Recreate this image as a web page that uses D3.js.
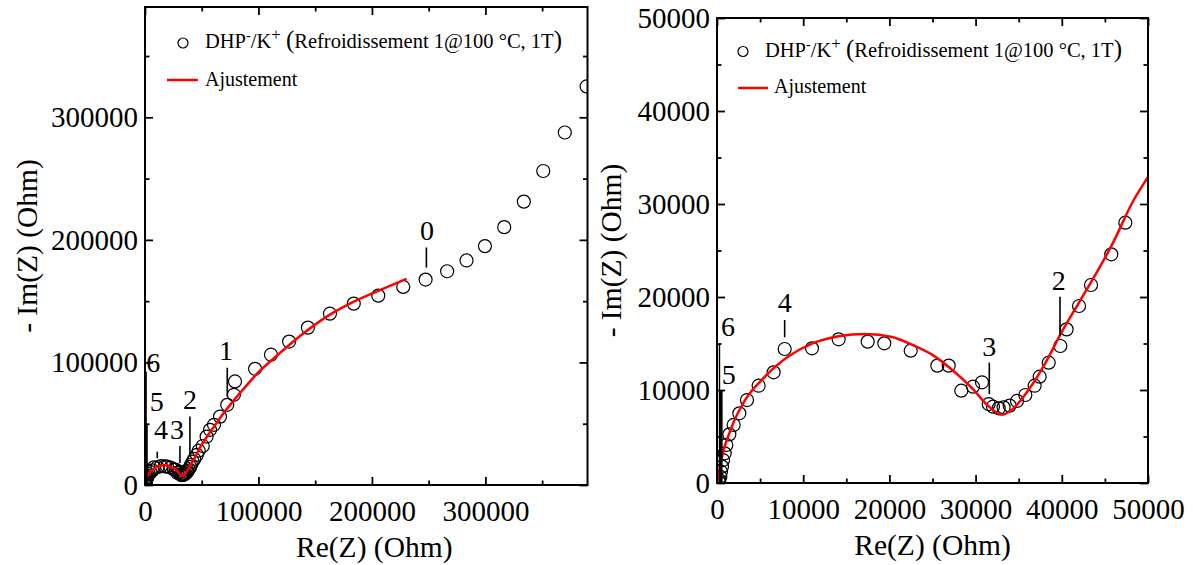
<!DOCTYPE html>
<html><head><meta charset="utf-8">
<script src="https://cdn.jsdelivr.net/npm/d3@7"></script>
<style>
body{margin:0;background:#fff}
svg{display:block}
text{font-family:"Liberation Serif","Times New Roman",serif;fill:#000}
</style>
</head><body>
<svg id="chart" width="1193" height="565"></svg>
<script>
// ---- measured impedance data (Ohm) ----
const dataRe = [200,270,390,460,580,700,890,1080,1430,1930,2590,3480,4830,6570,7850,11020,14110,17480,19410,22470,25560,26880,28340,29700,30740,31520,32020,32680,33250,33950,34800,35770,36850,37430,38480,39830,40560,42000,43390,45740,47370,50900,54300,57300,60800,66100,72500,78400,79300,97000,111000,127000,143600,163000,184000,205600,227600,247300,266300,283400,299600,316600,333900,351000,370000,389200];
const dataIm = [150,320,680,1220,1760,2470,3190,4090,5230,6240,7490,8920,10460,11900,14410,14480,15450,15200,15020,14230,12620,12620,9930,10360,10830,8490,8210,8030,8140,8320,8820,9460,10460,11430,12940,14730,16520,19030,21290,24590,27990,31800,39500,45000,49100,55800,65400,73600,84500,94800,106300,117000,128400,139800,148000,154500,161600,167600,174400,183200,194900,210400,231200,256200,287600,325200];
// ---- fitted curve (Ohm) ----
const fitRe = [0,580,1740,3290,5220,8310,11020,14110,17210,20300,22620,24940,27260,29580,31520,33060,34220,36160,38090,40030,41960,43900,45830,48340,50000,55000,60000,70000,83700,100000,118900,140000,163000,185000,207000,230500];
const fitIm = [0,2830,6100,8960,11110,13620,14980,15770,16020,15700,14870,13800,12180,10210,8240,7340,7890,10040,12900,16300,19350,22400,25630,30430,32900,40000,46500,59500,75000,92000,107700,124000,139000,150000,159000,168200];
// ---- ticks ----
const leftMajorTicks = [0,100000,200000,300000];
const leftMinorTicks = [50000,150000,250000,350000];
const rightMajorTicks = [0,10000,20000,30000,40000,50000];
const rightMinorTicks = [5000,15000,25000,35000,45000];
// ---- frequency markers (label, line x, line y from/to, label x, label baseline y) ----
const leftMarkers = [
  {t:"0", x:248000, y0:177400, y1:193800, lx:248500, ly:199500, w:1.6},
  {t:"1", x:72500, y0:72000, y1:95700, lx:71400, ly:101600, w:1.6},
  {t:"2", x:39600, y0:24500, y1:55800, lx:39600, ly:62100, w:1.6},
  {t:"3", x:30800, y0:18000, y1:31900, lx:28200, ly:37600, w:1.6},
  {t:"4", x:10800, y0:21800, y1:27200, lx:14200, ly:37600, w:1.6},
  {t:"5", x:1300, y0:0, y1:49000, lx:10300, ly:60700, w:2.6},
  {t:"6", x:1000, y0:0, y1:92400, lx:7300, ly:92200, w:1.4}
];
const rightMarkers = [
  {t:"2", x:39790, y0:15810, y1:20030, lx:39640, ly:20790, w:1.6},
  {t:"3", x:31590, y0:9570, y1:12940, lx:31590, ly:13690, w:1.6},
  {t:"4", x:7850, y0:15670, y1:17530, lx:7850, ly:18390, w:1.6},
  {t:"5", x:500, y0:0, y1:9920, lx:1360, ly:10680, w:2.6},
  {t:"6", x:290, y0:0, y1:14950, lx:1280, ly:15860, w:1.4}
];

const svg = d3.select("#chart");
const points = dataRe.map((r,i)=>({re:r, im:dataIm[i]}));
const fit = fitRe.map((r,i)=>({re:r, im:fitIm[i]}));
const FONT = '"Liberation Serif","Times New Roman",serif';

function legend(g, cx, cy, tx, ty, lx0, lx1, ly, ax, ay){
  g.append("circle").attr("cx",cx).attr("cy",cy).attr("r",5).attr("fill","none").attr("stroke","#000").attr("stroke-width",1.2);
  const t = g.append("text").attr("x",tx).attr("y",ty).attr("font-size",20.5);
  t.append("tspan").text("DHP");
  t.append("tspan").attr("font-size",14).attr("dy",-8).text("-");
  t.append("tspan").attr("dy",8).text("/K");
  t.append("tspan").attr("font-size",17).attr("dy",-8).text("+");
  t.append("tspan").attr("dy",8).text(" ");
  t.append("tspan").attr("font-size",25).attr("dy",0).text("(");
  t.append("tspan").text("Refroidissement 1@100 °C, 1T");
  t.append("tspan").attr("font-size",25).text(")");
  g.append("line").attr("x1",lx0).attr("x2",lx1).attr("y1",ly).attr("y2",ly).attr("stroke","#ff0000").attr("stroke-width",2.5);
  g.append("text").attr("x",ax).attr("y",ay).attr("font-size",20).text("Ajustement");
}

function panel(cfg){
  const g = svg.append("g");
  const x = d3.scaleLinear().domain([0,cfg.xMax]).range([cfg.left,cfg.right]);
  const y = d3.scaleLinear().domain([0,cfg.yMax]).range([cfg.bottom,cfg.top]);
  const clipId = "clip"+cfg.id;
  svg.append("clipPath").attr("id",clipId).append("rect")
    .attr("x",cfg.left).attr("y",cfg.top).attr("width",cfg.right-cfg.left).attr("height",cfg.bottom-cfg.top);

  const axStyle = sel => { sel.select(".domain").remove(); sel.selectAll("line").attr("stroke","#000").attr("stroke-width",1.8); sel.selectAll("text").attr("font-size",29).attr("font-family",FONT).attr("fill","#000"); };
  g.append("g").attr("transform",`translate(0,${cfg.bottom})`)
    .call(d3.axisBottom(x).tickValues(cfg.major).tickFormat(d3.format("d")).tickSize(-8).tickSizeOuter(0).tickPadding(15)).call(axStyle);
  g.append("g").attr("transform",`translate(0,${cfg.bottom})`)
    .call(d3.axisBottom(x).tickValues(cfg.minor).tickFormat("").tickSize(-4.5).tickSizeOuter(0)).call(axStyle);
  g.append("g").attr("transform",`translate(0,${cfg.top})`)
    .call(d3.axisTop(x).tickValues(cfg.major).tickFormat("").tickSize(-8).tickSizeOuter(0)).call(axStyle);
  g.append("g").attr("transform",`translate(0,${cfg.top})`)
    .call(d3.axisTop(x).tickValues(cfg.minor).tickFormat("").tickSize(-4.5).tickSizeOuter(0)).call(axStyle);
  g.append("g").attr("transform",`translate(${cfg.left},0)`)
    .call(d3.axisLeft(y).tickValues(cfg.yMajor).tickFormat(d3.format("d")).tickSize(-8).tickSizeOuter(0).tickPadding(7)).call(axStyle);
  g.append("g").attr("transform",`translate(${cfg.left},0)`)
    .call(d3.axisLeft(y).tickValues(cfg.yMinor).tickFormat("").tickSize(-4.5).tickSizeOuter(0)).call(axStyle);
  g.append("g").attr("transform",`translate(${cfg.right},0)`)
    .call(d3.axisRight(y).tickValues(cfg.yMajor).tickFormat("").tickSize(-8).tickSizeOuter(0)).call(axStyle);
  g.append("g").attr("transform",`translate(${cfg.right},0)`)
    .call(d3.axisRight(y).tickValues(cfg.yMinor).tickFormat("").tickSize(-4.5).tickSizeOuter(0)).call(axStyle);

  const dg = g.append("g").attr("clip-path",`url(#${clipId})`);
  dg.selectAll("circle").data(points).join("circle")
    .attr("cx",d=>x(d.re)).attr("cy",d=>y(d.im)).attr("r",6.5)
    .attr("fill","none").attr("stroke","#000").attr("stroke-width",1.2);
  dg.append("path").datum(fit)
    .attr("d",d3.line().x(d=>x(d.re)).y(d=>y(d.im)).curve(d3.curveMonotoneX))
    .attr("fill","none").attr("stroke","#ff0000").attr("stroke-width",2.5);

  cfg.markers.forEach(m=>{
    g.append("line").attr("x1",x(m.x)).attr("x2",x(m.x)).attr("y1",y(m.y0)).attr("y2",y(m.y1))
      .attr("stroke","#000").attr("stroke-width",m.w);
    g.append("text").attr("x",x(m.lx)).attr("y",y(m.ly)).attr("text-anchor","middle").attr("font-size",28).text(m.t);
  });

  g.append("rect").attr("x",cfg.left).attr("y",cfg.top).attr("width",cfg.right-cfg.left).attr("height",cfg.bottom-cfg.top)
    .attr("fill","none").attr("stroke","#000").attr("stroke-width",2);

  g.append("text").attr("x",(cfg.left+cfg.right)/2+cfg.xtdx).attr("y",cfg.bottom+72).attr("text-anchor","middle").attr("font-size",29.5).text("Re(Z) (Ohm)");
  g.append("text").attr("transform",`translate(${cfg.ytx},${(cfg.top+cfg.bottom)/2}) rotate(-90)`).attr("text-anchor","middle").attr("font-size",29.5).text("- Im(Z) (Ohm)");

  legend(g, cfg.leg[0],cfg.leg[1],cfg.leg[2],cfg.leg[3],cfg.leg[4],cfg.leg[5],cfg.leg[6],cfg.leg[7],cfg.leg[8]);
}

panel({id:"L", left:145, right:587.5, top:7, bottom:485, xMax:390000, yMax:390000,
  major:leftMajorTicks, minor:leftMinorTicks, yMajor:leftMajorTicks, yMinor:leftMinorTicks,
  markers:leftMarkers, ytx:37, xtdx:8, leg:[183,43,205,48,167,198,80,205,86]});
panel({id:"R", left:717, right:1148, top:18, bottom:483, xMax:50000, yMax:50000,
  major:rightMajorTicks, minor:rightMinorTicks, yMajor:rightMajorTicks, yMinor:rightMinorTicks,
  markers:rightMarkers, ytx:621, xtdx:0, leg:[743,51.5,765,57,738,768,88,774,93]});
</script>
</body></html>
